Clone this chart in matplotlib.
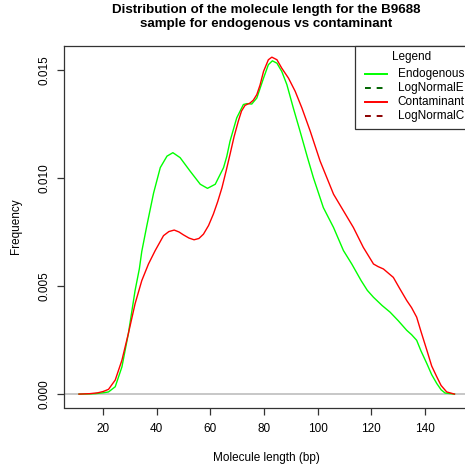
#!/usr/bin/env python3

import matplotlib
matplotlib.use("Agg")
import matplotlib.pyplot as plt
from matplotlib.lines import Line2D
from matplotlib.patches import Rectangle

plt.rcParams['font.family'] = ['Liberation Sans', 'DejaVu Sans']

# density curves (length in bp, density)
endo_x = [11, 15, 17, 20, 22, 24.5, 27, 29.4, 31.9, 33.5, 34.4, 36.3, 38.8,
          41.3, 43.8, 46.0, 48.7, 52.4, 56.2, 58.9, 61.8, 64.9, 66.1, 67.3,
          69.8, 72.3, 73.6, 75.4, 77.3, 79.8, 81.6, 83.1, 84.8, 86.6, 88.5,
          90.9, 93.4, 94.7, 96.2, 98.4, 102.1, 105.9, 109.6, 112.7, 116.2,
          118.5, 120.8, 124, 127, 130, 133.2, 135, 136.9, 138.5, 140.7, 142.5,
          144.4, 146, 147.5, 151]
endo_y = [0, 0.00001, 0.00002, 0.00006, 0.0001, 0.00034, 0.00126, 0.0028,
          0.00479, 0.0058, 0.0066, 0.0078, 0.0093, 0.01048, 0.01101, 0.01117,
          0.01094, 0.01032, 0.00971, 0.00952, 0.00971, 0.01048, 0.0110,
          0.0117, 0.01278, 0.0134, 0.01344, 0.01342, 0.0137, 0.01462, 0.01524,
          0.01542, 0.01531, 0.01493, 0.01432, 0.01324, 0.01217, 0.0116,
          0.01094, 0.01001, 0.00863, 0.00771, 0.00664, 0.00602, 0.00525,
          0.0048, 0.00448, 0.0041, 0.00379, 0.0034, 0.00295, 0.00275, 0.00249,
          0.0020, 0.00141, 0.0009, 0.00049, 0.0002, 0.00005, 0]

cont_x = [11, 15, 18, 20, 22, 24.5, 27, 29.4, 31.9, 34.4, 36.9, 39.4, 42.5,
          44.5, 46.5, 48.3, 49.9, 52, 53.9, 55.7, 57.4, 59.3, 61.1, 62.7, 64.3,
          65.8, 67.3, 68.8, 70.4, 71.6, 72.9, 74.8, 76, 77.3, 78.5, 79.8, 81.6,
          82.9, 84.8, 86.6, 89.1, 91.6, 94.1, 97.2, 100.9, 105.9, 109.6, 113.3,
          117, 120.8, 122.5, 124.5, 126.3, 128.2, 130.5, 133.2, 135, 136.9,
          138.5, 140.7, 142.5, 144.4, 146, 148.1, 151]
cont_y = [0, 0.00002, 0.00006, 0.00012, 0.00022, 0.00065, 0.00157, 0.0028,
          0.00418, 0.00525, 0.00602, 0.00664, 0.00733, 0.00752, 0.00759,
          0.0075, 0.00737, 0.00722, 0.00714, 0.0072, 0.0074, 0.0078, 0.00833,
          0.0089, 0.00955, 0.0103, 0.01109, 0.0119, 0.01263, 0.0131, 0.01336,
          0.01347, 0.0136, 0.01386, 0.0143, 0.01493, 0.01547, 0.01559, 0.01547,
          0.01508, 0.01462, 0.01401, 0.01324, 0.01217, 0.01078, 0.00925,
          0.00848, 0.00771, 0.00679, 0.00602, 0.0059, 0.00579, 0.0056, 0.0054,
          0.0049, 0.00433, 0.0040, 0.00356, 0.0029, 0.00203, 0.0013, 0.0008,
          0.0004, 0.0001, 0]

x_ticks = [20, 40, 60, 80, 100, 120, 140]
y_ticks = [0.000, 0.005, 0.010, 0.015]
legend_labels = ["Endogenous", "LogNormalE", "Contaminant", "LogNormalC"]
legend_colors = ["#00ff00", "#006400", "#ff0000", "#8b0000"]
legend_styles = ["-", "--", "-", "--"]

W, H = 465, 469
fig = plt.figure(figsize=(W / 100, H / 100), dpi=100)

def fx(p):
    return p / W

def fy(p):
    return 1 - p / H

ax = fig.add_axes([fx(64), fy(407.5), (469.5 - 64) / W, (407.5 - 45.7) / H])
ax.set_xlim(5.4, 156.6)
ax.set_ylim(-0.00062, 0.01612)

ax.axhline(0, color="#bebebe", lw=1.2, zorder=1)
ax.plot(endo_x, endo_y, color="#00ff00", lw=1.0, zorder=2,
        solid_joinstyle="round")
ax.plot(cont_x, cont_y, color="#ff0000", lw=1.0, zorder=3,
        solid_joinstyle="round")

for s in ax.spines.values():
    s.set_color("#333333")
    s.set_linewidth(0.9)
ax.set_xticks(x_ticks)
ax.set_xticklabels([str(t) for t in x_ticks])
ax.set_yticks(y_ticks)
ax.set_yticklabels(["%.3f" % t for t in y_ticks], rotation=90, va="center")
ax.tick_params(direction="out", length=5, width=0.9, color="#333333",
               labelsize=8.5, pad=6)
ax.tick_params(axis="y", pad=5)

# titles are centred on the plot region, as R does
cx = fx(266.5)
fig.text(cx, fy(10), "Distribution of the molecule length for the B9688",
         ha="center", va="center", fontsize=9.6, fontweight="bold")
fig.text(cx, fy(24.5), "sample for endogenous vs contaminant",
         ha="center", va="center", fontsize=9.6, fontweight="bold")
fig.text(cx, fy(458), "Molecule length (bp)", ha="center", va="center",
         fontsize=8.5)
fig.text(fx(16), fy(226), "Frequency", ha="center", va="center",
         fontsize=8.5, rotation=90)

# legend box at the top right of the plot region
fig.add_artist(Rectangle((fx(355), fy(129.3)), fx(469.5) - fx(355),
                         fy(45.7) - fy(129.3), transform=fig.transFigure,
                         facecolor="white", edgecolor="#333333", lw=0.9,
                         zorder=5))
fig.text(fx(411.5), fy(57), "Legend", ha="center", va="center",
         fontsize=8.5, zorder=6)
for i, (lab, col, ls) in enumerate(zip(legend_labels, legend_colors,
                                       legend_styles)):
    yy = fy(74.3 + i * 13.9)
    fig.add_artist(Line2D([fx(365), fx(387)], [yy, yy],
                          transform=fig.transFigure, color=col, ls=ls,
                          lw=1.4, dashes=(3, 3) if ls == "--" else (None, None),
                          zorder=6))
    fig.text(fx(397.5), yy, lab, ha="left", va="center", fontsize=8.5,
             zorder=6)

fig.savefig("out.png", dpi=100)
